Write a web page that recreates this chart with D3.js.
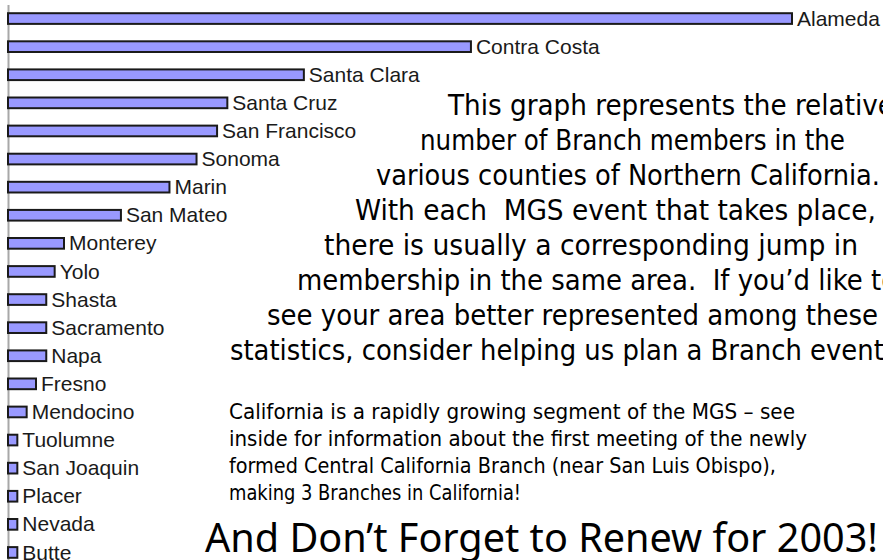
<!DOCTYPE html>
<html>
<head>
<meta charset="utf-8">
<script src="https://cdn.jsdelivr.net/npm/d3@7"></script>
<style>
    html, body { margin: 0; padding: 0; background: #fff; }
    svg { display: block; }
    .county { font-family: "Liberation Sans", Arial, sans-serif; font-size: 21px; fill: #1a1a1a; }
    .note { font-family: "DejaVu Sans Condensed", "DejaVu Sans", sans-serif; font-stretch: condensed; fill: #000; white-space: pre; }
    .headline { font-family: "Kristen ITC", "Comic Sans MS", "Noto Sans", sans-serif; font-size: 40px; fill: #000; }
</style>
</head>
<body>
<div id="chart"></div>
<script>
// counties, top to bottom
const counties = ["Alameda", "Contra Costa", "Santa Clara", "Santa Cruz", "San Francisco",
    "Sonoma", "Marin", "San Mateo", "Monterey", "Yolo", "Shasta", "Sacramento", "Napa",
    "Fresno", "Mendocino", "Tuolumne", "San Joaquin", "Placer", "Nevada", "Butte"];

// relative number of branch members
const members = [84, 49.6, 31.7, 23.5, 22.4, 20.2, 17.3, 12.1, 6, 5, 4.1, 4.1, 4.1,
    3, 2, 1, 1, 1, 1, 1];

const introLines = [
    "This graph represents the relative",
    "number of Branch members in the",
    "various counties of Northern California.",
    "With each  MGS event that takes place,",
    "there is usually a corresponding jump in",
    "membership in the same area.  If you\u2019d like to",
    "see your area better represented among these",
    "statistics, consider helping us plan a Branch event."
];

const newsLines = [
    "California is a rapidly growing segment of the MGS \u2013 see",
    "inside for information about the first meeting of the newly",
    "formed Central California Branch (near San Luis Obispo),",
    "making 3 Branches in California!"
];

const headline = "And Don\u2019t Forget to Renew for 2003!";

// layout of the text blocks: [x start, baseline, width]
const introLayout = [
    [448, 115, 446], [420, 150, 425], [376, 185, 504], [355, 220, 521],
    [324, 255, 534], [297, 290, 600], [267, 325, 611], [230, 360, 662]
];
const newsLayout = [[229, 419, 566], [229, 446, 578], [229, 473, 547], [229, 500, 292]];

const width = 883, height = 560;

const svg = d3.select('#chart').append('svg')
    .attr('width', width)
    .attr('height', height);

const x = d3.scaleLinear()
    .domain([0, d3.max(members)])
    .range([8, 792]);

const y = d3.scaleBand()
    .domain(counties)
    .range([4.5, 566.5])
    .paddingInner(0.62)
    .paddingOuter(0.31);

const rows = counties.map((c, i) => ({county: c, value: members[i]}));

// axis line only, no ticks
const axis = svg.append('g')
    .attr('transform', `translate(${x(0)},0)`)
    .call(d3.axisLeft(y).tickSize(0).tickSizeOuter(0).tickFormat(''));
axis.select('.domain')
    .attr('stroke', '#a8a8a8')
    .attr('stroke-width', 2);

// bars
svg.selectAll('.bar')
    .data(rows)
    .enter().append('rect')
    .attr('class', 'bar')
    .attr('x', x(0))
    .attr('y', d => y(d.county))
    .attr('width', d => x(d.value) - x(0))
    .attr('height', y.bandwidth())
    .attr('fill', '#9999ff')
    .attr('stroke', '#1a1a1a')
    .attr('stroke-width', 2);

// county labels at bar ends
svg.selectAll('.county')
    .data(rows)
    .enter().append('text')
    .attr('class', 'county')
    .attr('x', d => x(d.value) + 5)
    .attr('y', d => y(d.county) + y.bandwidth() / 2)
    .attr('dy', '0.34em')
    .text(d => d.county);

// text blocks, stretched to the widths seen in the picture
function writeLines(lines, layout, size) {
    svg.append('g').selectAll('text')
        .data(lines)
        .enter().append('text')
        .attr('class', 'note')
        .style('font-size', size + 'px')
        .attr('x', (d, i) => layout[i][0])
        .attr('y', (d, i) => layout[i][1])
        .attr('textLength', (d, i) => layout[i][2])
        .attr('lengthAdjust', 'spacingAndGlyphs')
        .text(d => d);
}

writeLines(introLines, introLayout, 29);
writeLines(newsLines, newsLayout, 21);

svg.append('text')
    .attr('class', 'headline')
    .attr('x', 205)
    .attr('y', 552)
    .attr('textLength', 673)
    .attr('lengthAdjust', 'spacingAndGlyphs')
    .text(headline);
</script>
</body>
</html>
